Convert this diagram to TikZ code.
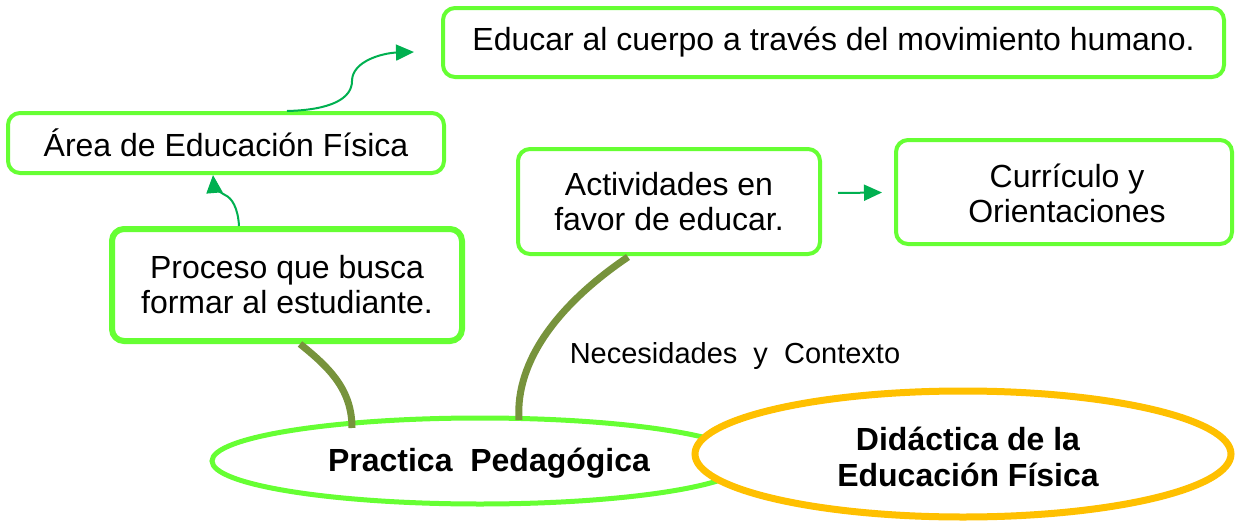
\documentclass[tikz,border=0pt]{standalone}
\usepackage{fontspec}
\setmainfont{Liberation Sans}
\usetikzlibrary{shapes.geometric,arrows.meta,calc}
\definecolor{boxgreen}{HTML}{66FF33}
\definecolor{arrgreen}{HTML}{00B050}
\definecolor{olive}{HTML}{77933C}
\definecolor{gold}{HTML}{FFC000}
\tikzset{
  gbox/.style={draw=boxgreen, line width=4pt, rounded corners=12pt, fill=white,
    align=center, inner sep=0pt, font=\fontsize{32}{35}\selectfont},
  garrow/.style={draw=arrgreen, line width=2pt, -{Triangle[length=18pt,width=16pt]}},
  stem/.style={draw=olive, line width=7pt},
}
\begin{document}
\begin{tikzpicture}[x=1pt,y=-1pt]
\useasboundingbox (0,0) rectangle (1235,522);
% boxes
\node[gbox, minimum width=781pt, minimum height=69pt] (educ) at (833.5,42.5) {Educar al cuerpo a través del movimiento humano.};
\node[gbox, minimum width=436pt, minimum height=60pt] (area) at (226,143) {Área de Educación Física};
\node[gbox, line width=6pt, minimum width=350pt, minimum height=112pt] (proc) at (287,285) {Proceso que busca\\formar al estudiante.};
\node[gbox, minimum width=302pt, minimum height=105pt] (act) at (669,201.5) {Actividades en\\favor de educar.};
\node[gbox, minimum width=336pt, minimum height=104pt] (cur) at (1064,192) {};
\node[align=center, font=\fontsize{32}{35}\selectfont] (curtext) at (1067,193) {Currículo y\\Orientaciones};
% ellipses
\node[ellipse, draw=boxgreen, line width=5pt, fill=white, inner sep=0pt,
  minimum width=536pt, minimum height=86pt] (pp) at (480,461) {};
\node[font=\bfseries\fontsize{32}{36}\selectfont] (pptext) at (489,463) {Practica\ \ Pedagógica};
\node[ellipse, draw=gold, line width=7pt, fill=white, inner sep=0pt,
  minimum width=536pt, minimum height=126pt] (did) at (963,454) {};
\node[align=center, font=\bfseries\fontsize{32}{36}\selectfont] (didtext) at (968,457) {Didáctica de la\\Educación Física};
% label
\node[font=\fontsize{29}{32}\selectfont] (nec) at (735,356) {Necesidades\ \ y\ \ Contexto};
% olive stems
\draw[stem] ($(proc.south)+(13,0)$) .. controls ($(proc.south)+(43,24)$) and ($(pp.center)+(-128,-71)$) .. ($(pp.center)+(-128,-33)$);
\draw[stem] ($(act.south)+(-41,1)$) .. controls ($(act.south)+(-109,47)$) and ($(pp.center)+(35,-101)$) .. ($(pp.center)+(39,-41)$);
% green arrows
\coordinate (a1) at ($(educ.west)+(-27,9.5)$);
\draw[garrow] ($(area.north)+(61,0)$) .. controls ($(area.north)+(104,-1)$) and ($(area.north)+(126,-12)$) .. ($(area.north)+(126,-30)$) .. controls ($(area.north)+(126,-50)$) and ($(a1)+(-31,1)$) .. (a1);
\draw[garrow] ($(proc.north)+(-48,0)$) .. controls ($(proc.north)+(-49,-18)$) and ($(proc.north)+(-55,-28)$) .. ($(proc.north)+(-62,-31)$) .. controls ($(proc.north)+(-69,-35)$) and ($(area.south)+(-12,12)$) .. ($(area.south)+(-13,0)$);
\draw[garrow] ($(act.east)+(16,-8.5)$) -- ($(cur.west)+(-12,0.5)$);
\end{tikzpicture}
\end{document}
